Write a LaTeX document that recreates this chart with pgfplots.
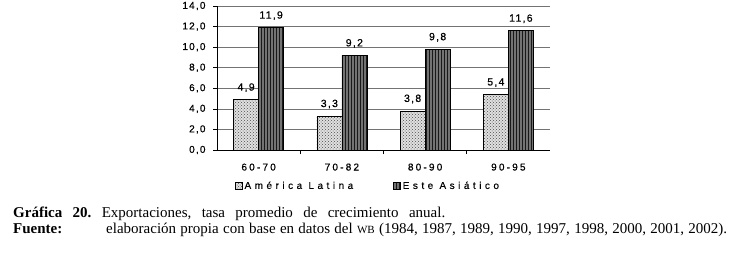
\documentclass[border=0pt]{standalone}
\usepackage{fontspec}
\setmainfont{Liberation Serif}
\newfontfamily\chartfont[FakeBold=0.5]{Liberation Sans}
\newfontfamily\legendfont[LetterSpace=35, FakeBold=0.3]{Liberation Sans}
\usepackage{pgfplots}
\pgfplotsset{compat=1.18}
\usetikzlibrary{patterns}
\begin{document}
\frenchspacing
\begin{tikzpicture}[x=1pt,y=1pt]
\begin{axis}[
  at={(217pt,107pt)}, anchor=south west,
  scale only axis, width=333pt, height=144pt,
  xmin=-0.5, xmax=3.5, ymin=0, ymax=14,
  ybar=0pt, bar width=25pt,
  axis x line*=bottom, axis y line*=left,
  axis line style={-, black, line width=0.8pt},
  ytick={0,2,4,6,8,10,12,14},
  ymajorgrids, grid style={black!55, line width=0.7pt},
  xtick={0,1,2,3}, xticklabels={60-70,70-82,80-90,90-95},
  minor xtick={0.5,1.5,2.5},
  major x tick style={draw=none},
  tick align=outside, major tick length=4pt, minor tick length=4pt,
  tick style={black, line width=0.6pt},
  /pgf/number format/.cd, use comma, fixed, fixed zerofill, precision=1, assume math mode=true,
  /pgfplots/.cd,
  yticklabel style={font=\chartfont\addfontfeature{LetterSpace=12}\fontsize{10}{12}\selectfont, xshift=-4pt},
  xticklabel style={font=\chartfont\addfontfeature{LetterSpace=22}\fontsize{10}{12}\selectfont, yshift=-6pt},
  nodes near coords,
  nodes near coords style={font=\chartfont\addfontfeature{LetterSpace=12}\fontsize{10.5}{12}\selectfont, yshift=4pt},
  legend style={at={(0.4535,-0.25)}, anchor=center, draw=none, fill=none,
    legend columns=2,
    font=\legendfont\fontsize{10}{12}\selectfont,
    /tikz/every even column/.append style={column sep=38pt}},
  legend cell align=left,
  legend image code/.code={\draw[#1, line width=0.5pt] (0pt,-3.5pt) rectangle (7pt,3.5pt);},
]
\addplot[draw=black, line width=0.6pt, fill=black!12, postaction={pattern=crosshatch dots, pattern color=black!70}]
  coordinates {(0,4.9) (1,3.3) (2,3.8) (3,5.4)};
\addplot[draw=black, line width=0.6pt, fill=black!55, postaction={pattern=vertical lines, pattern color=black!90}]
  coordinates {(0,11.9) (1,9.2) (2,9.8) (3,11.6)};
\legend{América Latina, Este Asiático}
\end{axis}
\node[anchor=base west, inner sep=0pt, font=\fontsize{15}{16}\selectfont] at (13,40) {\makebox[432pt][s]{\textbf{Gráfica 20.} Exportaciones, tasa promedio de crecimiento anual.}};
\node[anchor=base west, inner sep=0pt, font=\fontsize{15}{16}\selectfont] at (13,24) {\textbf{Fuente:}};
\node[anchor=base west, inner sep=0pt, font=\fontsize{15}{16}\selectfont] at (106,24) {\makebox[621pt][s]{elaboración propia con base en datos del {\fontsize{11}{12}\selectfont WB} (1984, 1987, 1989, 1990, 1997, 1998, 2000, 2001, 2002).}};
\pgfresetboundingbox
\useasboundingbox (0,0) rectangle (735,257);
\end{tikzpicture}
\end{document}
